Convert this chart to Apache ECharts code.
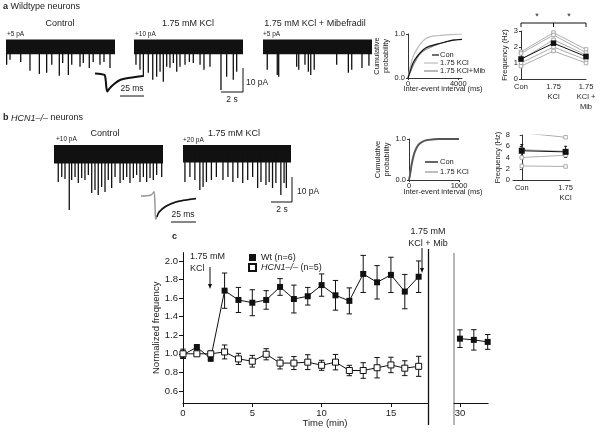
<!DOCTYPE html>
<html><head><meta charset="utf-8">
<script src="https://cdn.jsdelivr.net/npm/echarts@6/dist/echarts.min.js"></script>
<style>html,body{margin:0;padding:0;background:#fff}#c{width:600px;height:433px}</style>
</head><body><div id="c"></div><script>
// ---------- DATA ----------
// Panel a traces: spike times (s) and amplitudes (pA)
const a1T = [0.06,0.37,1.35,2.2,3.06,3.73,4.2,4.89,5.2,5.72,6.03,6.79,7.09,7.64,8.0,8.62,8.99,9.54];
const a1A = [7.5,5.4,6.3,10,11.3,10.8,7.5,12.1,6.7,11.7,7.5,8.3,6.7,8.8,6.3,7.5,6.3,8.8];
const a2T = [0.18,0.55,0.86,1.31,1.72,2.08,2.39,2.69,3.0,3.3,3.61,3.92,4.22,4.68,5.08,5.44,6.06,6.42,6.97,7.98,8.5,9.11,9.42];
const a2A = [7.5,9.6,12.5,10.8,13.7,12.5,10.4,14.6,8.3,8.7,6.7,10.4,8.3,7.5,6.3,6.7,7.5,9.6,8.3,18.7,12.5,13.7,10.4];
const a3T = [0.39,1.31,1.44,3.09,3.28,3.85,4.16,4.38,4.7,6.76,7.83,8.14,9.08,9.72];
const a3A = [9.6,11.7,12.5,8.3,9.6,7.5,10.4,11.7,9.6,7.5,10.8,9.6,8.8,7.9];
// Panel b traces
const b1T = [0.39,0.71,1.01,1.4,1.62,1.93,2.23,2.54,2.84,3.15,3.46,3.76,4.06,4.37,4.68,4.98,5.29,5.6,6.06,6.36,6.67,6.97,7.28,7.58,7.89,8.2,8.5,8.81,9.11,9.42,9.88];
const b1A = [11.2,9.2,10,22.4,10.4,9.2,11.6,9.6,10.4,8.4,15.6,14.4,16.4,13.2,15.2,10.4,13.6,9.2,11.6,10.4,9.2,11.6,9.6,8.4,11.2,9.2,11.2,9.6,10.4,8.4,9.2];
const b2T = [0.18,0.64,1.1,1.56,1.86,2.17,2.63,3.09,3.7,4.16,4.62,5.07,5.53,5.99,6.45,6.91,7.22,7.68,7.98,8.29,8.6,9.06,9.36,9.57];
const b2A = [11.2,9.2,10.4,14.4,13.2,11.2,10.4,9.2,10.4,9.2,11.2,9.6,11.6,10.4,9.2,13.6,11.2,12.4,11.2,13.6,11.6,16.4,11.6,13.6];
// Average EPSC insets (ms, pA)
const epscA_t = [0,6,10,11,11.8,12.8,15,18.7,26,36.5,50];
const epscA_v = [-1.5,-1.8,-2.2,-4,-7.5,-9.5,-8.2,-6.6,-4.4,-3.4,-2.6];
const epscBg_t = [0,10,13,14,14.8,18,25,35,45,55];
const epscBg_v = [-3.2,-2.8,-1.5,-7,-12.5,-9.5,-7.2,-5.5,-4.8,-4.3];
const epscBk_t = [16,18,25,35,45,55];
const epscBk_v = [-11.5,-9.7,-7.3,-5.6,-4.8,-4.2];
// Cumulative probability, panel a
const cumA_t   = [0,200,400,700,1000,1400,1800,2300,3000,3600,4300];
const cumA_con = [0,0.18,0.34,0.48,0.58,0.68,0.73,0.77,0.82,0.86,0.88];
const cumA_kcl = [0,0.28,0.48,0.65,0.78,0.89,0.94,0.96,0.98,0.99,1.0];
const cumA_mib = [0,0.14,0.28,0.44,0.56,0.64,0.70,0.76,0.82,0.86,0.88];
// Cumulative probability, panel b
const cumB_t   = [0,25,50,100,150,200,300,400,600,1000];
const cumB_con = [0,0.15,0.35,0.62,0.78,0.87,0.95,0.98,1.0,1.0];
const cumB_kcl = [0,0.18,0.40,0.66,0.80,0.89,0.96,0.985,1.0,1.0];
// Frequency, panel a (per neuron) and mean
const freqCatsA = ['Con','1.75\nKCl','1.75\nKCl +\nMib'];
const freqA_con = [1.7,1.6,1.2,1.0,0.8];
const freqA_kcl = [2.9,2.75,2.45,2.0,1.75];
const freqA_mib = [1.85,1.65,1.5,1.2,1.0];
const freqA_mean = [1.25,2.24,1.4];
// Frequency, panel b
const freqB_con = [8.4,8.4,5.4,4.0,2.5];
const freqB_kcl = [8.4,7.6,5.1,4.4,2.4];
const freqB_mean = [5.2,5.0];
const freqB_sem = [1.1,1.0];
// Panel c time course
const timeC = [0,1,2,3,4,5,6,7,8,9,10,11,12,13,14,15,16,17];
const wtMean = [0.99,1.07,0.95,1.68,1.58,1.55,1.58,1.72,1.59,1.62,1.74,1.63,1.57,1.86,1.77,1.85,1.67,1.83];
const wtSem  = [0.04,0.03,0.03,0.19,0.135,0.14,0.10,0.09,0.15,0.095,0.12,0.16,0.14,0.20,0.18,0.19,0.185,0.17];
const hcnMean = [1.0,1.0,1.0,1.02,0.945,0.92,0.995,0.90,0.90,0.91,0.876,0.91,0.82,0.82,0.85,0.88,0.845,0.865];
const hcnSem  = [0.05,0.02,0.03,0.075,0.06,0.063,0.06,0.063,0.07,0.08,0.054,0.083,0.056,0.084,0.11,0.083,0.08,0.108];
const timeMib = [30,31,32];
const mibMean = [1.163,1.15,1.128];
const mibSem  = [0.095,0.11,0.08];
const yTicksC = [0.6,0.8,1.0,1.2,1.4,1.6,1.8,2.0];

// ---------- CHART ----------
const FF = 'Liberation Sans, Arial, Helvetica, sans-serif';
const TC = '#222';
const chart = echarts.init(document.getElementById('c'), null, {renderer:'canvas'});

const grids = [
  {left:6, top:30, width:109, height:60},    //0 a1
  {left:134, top:30, width:109, height:60},  //1 a2
  {left:263, top:30, width:109, height:60},  //2 a3
  {left:95, top:70, width:48, height:25},    //3 inset a
  {left:408, top:34, width:54, height:44},   //4 cum a
  {left:521, top:31, width:65, height:48},   //5 freq a
  {left:54, top:134, width:109, height:80},  //6 b1
  {left:183, top:134, width:108, height:80}, //7 b2
  {left:141, top:188, width:56, height:35},  //8 inset b
  {left:409, top:139, width:50, height:41},  //9 cum b
  {left:513, top:135, width:57, height:45},  //10 freq b
  {left:183, top:252.6, width:245.5, height:150.4}, //11 main c
  {left:454, top:252.6, width:34.1, height:150.4}   //12 right c
];
const hid = {show:false};
const smallLab = {fontSize:7.5, color:TC, fontFamily:FF, margin:3};
const axLine = {lineStyle:{color:'#333', width:1}};
const xAxes = [], yAxes = [];
function traceAxes(gi, ymin, ymax, xmax){
  xAxes.push({gridIndex:gi, type:'value', min:0, max:xmax, show:false});
  yAxes.push({gridIndex:gi, type:'value', min:ymin, max:ymax, show:false});
}
traceAxes(0,-18,7,10); traceAxes(1,-18,7,10); traceAxes(2,-18,7,10);
traceAxes(3,-11,0,50);
// 4 cum a
xAxes.push({gridIndex:4, type:'value', min:0, max:4300, interval:4000, axisLine:axLine, axisTick:{length:2, lineStyle:{color:'#333'}}, axisLabel:Object.assign({},smallLab,{margin:2, formatter:v=>String(v)}), splitLine:hid});
yAxes.push({gridIndex:4, type:'value', min:0, max:1, interval:1, axisLine:Object.assign({show:true},axLine), axisTick:{show:true,length:2}, axisLabel:Object.assign({},smallLab,{formatter:v=>v.toFixed(1)}), splitLine:hid,
  name:'Cumulative\nprobability', nameLocation:'middle', nameGap:17, nameTextStyle:{fontSize:7.5, color:TC, fontFamily:FF, lineHeight:9}});
// 5 freq a
xAxes.push({gridIndex:5, type:'category', data:freqCatsA, boundaryGap:false, axisLine:axLine, axisTick:hid, axisLabel:Object.assign({},smallLab,{lineHeight:10, margin:3})});
yAxes.push({gridIndex:5, type:'value', min:0, max:3, interval:1, axisLine:Object.assign({show:true},axLine), axisTick:{show:true,length:2}, axisLabel:smallLab, splitLine:hid,
  name:'Frequency (Hz)', nameLocation:'middle', nameGap:12, nameTextStyle:{fontSize:7.5, color:TC, fontFamily:FF}});
traceAxes(6,-24,8,10); traceAxes(7,-24,8,10);
traceAxes(8,-14,0,56);
// 9 cum b
xAxes.push({gridIndex:9, type:'value', min:0, max:1000, interval:1000, axisLine:axLine, axisTick:{length:2}, axisLabel:Object.assign({},smallLab,{margin:2, formatter:v=>String(v)}), splitLine:hid});
yAxes.push({gridIndex:9, type:'value', min:0, max:1, interval:1, axisLine:Object.assign({show:true},axLine), axisTick:{show:true,length:2}, axisLabel:Object.assign({},smallLab,{formatter:v=>v.toFixed(1)}), splitLine:hid,
  name:'Cumulative\nprobability', nameLocation:'middle', nameGap:17, nameTextStyle:{fontSize:7.5, color:TC, fontFamily:FF, lineHeight:9}});
// 10 freq b
xAxes.push({gridIndex:10, type:'value', min:-0.2, max:1.1, axisLine:axLine, axisTick:{show:false},
  axisLabel:Object.assign({},smallLab,{customValues:[0,1], lineHeight:10, formatter:v=>v===0?'Con':'1.75\nKCl'}), splitLine:hid});
yAxes.push({gridIndex:10, type:'value', min:0, max:8, interval:2, axisLine:Object.assign({show:true},axLine), axisTick:{show:true,length:2}, axisLabel:smallLab, splitLine:hid,
  name:'Frequency (Hz)', nameLocation:'middle', nameGap:10, nameTextStyle:{fontSize:7.5, color:TC, fontFamily:FF}});
// 11 main c
const cLab = {fontSize:9.5, color:TC, fontFamily:FF, margin:5};
xAxes.push({gridIndex:11, type:'value', min:0, max:17.71, axisLine:{lineStyle:{color:'#111'}}, axisTick:{length:4, customValues:[0,5,10,15], lineStyle:{color:'#111'}},
  axisLabel:Object.assign({},cLab,{customValues:[0,5,10,15]}), splitLine:hid});
yAxes.push({gridIndex:11, type:'value', min:0.47, max:2.09, axisLine:{show:true, lineStyle:{color:'#111'}}, axisTick:{show:true, length:4, customValues:yTicksC, lineStyle:{color:'#111'}},
  axisLabel:Object.assign({},cLab,{customValues:yTicksC, formatter:v=>v.toFixed(1)}), splitLine:hid,
  name:'Normalized frequency', nameLocation:'middle', nameGap:19, nameTextStyle:{fontSize:9.5, color:TC, fontFamily:FF}});
// 12 right c
xAxes.push({gridIndex:12, type:'value', min:29.57, max:32.03, axisLine:{lineStyle:{color:'#111'}}, axisTick:{length:4, customValues:[30], lineStyle:{color:'#111'}},
  axisLabel:Object.assign({},cLab,{customValues:[30]}), splitLine:hid});
yAxes.push({gridIndex:12, type:'value', min:0.47, max:2.09, show:false});

const series = [];
function spikes(gi, t, a, band){
  series.push({type:'bar', xAxisIndex:gi, yAxisIndex:gi, barWidth:1.3, itemStyle:{color:'#111'},
    data:t.map((v,i)=>[v,-a[i]]), silent:true,
    markArea:{silent:true, itemStyle:{color:'#111', opacity:1}, data:[[{coord:[0,band[0]]},{coord:[10,band[1]]}]]}});
}
spikes(0,a1T,a1A,[-3.1,3.0]);
spikes(1,a2T,a2A,[-3.1,3.0]);
spikes(2,a3T,a3A,[-3.1,3.0]);
spikes(6,b1T,b1A,[-3.8,3.6]);
spikes(7,b2T,b2A,[-3.4,3.6]);
function line(gi, xs, ys, color, w, extra){
  series.push(Object.assign({type:'line', xAxisIndex:gi, yAxisIndex:gi, showSymbol:false, symbol:'none', silent:true,
    lineStyle:{color:color, width:w}, itemStyle:{color:color}, data:xs.map((v,i)=>[v,ys[i]])}, extra||{}));
}
line(3, epscA_t, epscA_v, '#111', 2, {smooth:0.3});
line(8, epscBg_t, epscBg_v, '#999', 1.5, {smooth:0.3});
line(8, epscBk_t, epscBk_v, '#111', 1.5, {smooth:0.3});
line(4, cumA_t, cumA_kcl, '#bbb', 1.2, {smooth:0.4});
line(4, cumA_t, cumA_mib, '#888', 1.2, {smooth:0.4});
line(4, cumA_t, cumA_con, '#111', 1.2, {smooth:0.4});
line(9, cumB_t, cumB_kcl, '#aaa', 1.5, {smooth:0.4});
line(9, cumB_t, cumB_con, '#555', 1.8, {smooth:0.4});
// freq a neurons
for (let i=0;i<freqA_con.length;i++){
  series.push({type:'line', xAxisIndex:5, yAxisIndex:5, data:[freqA_con[i],freqA_kcl[i],freqA_mib[i]], symbol:'rect', symbolSize:3.5,
    lineStyle:{color:'#999', width:0.8}, itemStyle:{color:'#fff', borderColor:'#999', borderWidth:0.8}, silent:true});
}
series.push({type:'line', xAxisIndex:5, yAxisIndex:5, data:freqA_mean, symbol:'rect', symbolSize:5.5, lineStyle:{color:'#111', width:1}, itemStyle:{color:'#111'}, silent:true, z:5});
// freq b neurons
for (let i=0;i<freqB_con.length;i++){
  series.push({type:'line', xAxisIndex:10, yAxisIndex:10, data:[[0,freqB_con[i]],[1,freqB_kcl[i]]], symbol:'rect', symbolSize:3.5,
    lineStyle:{color:'#999', width:0.8}, itemStyle:{color:'#fff', borderColor:'#999', borderWidth:0.8}, silent:true});
}
function errRender(cap, color){
  return function(params, api){
    const x=api.value(0), m=api.value(1), e=api.value(2);
    const p1=api.coord([x,m+e]), p2=api.coord([x,m-e]);
    const st={stroke:color, lineWidth:1};
    return {type:'group', children:[
      {type:'line', shape:{x1:p1[0],y1:p1[1],x2:p2[0],y2:p2[1]}, style:st},
      {type:'line', shape:{x1:p1[0]-cap,y1:p1[1],x2:p1[0]+cap,y2:p1[1]}, style:st},
      {type:'line', shape:{x1:p2[0]-cap,y1:p2[1],x2:p2[0]+cap,y2:p2[1]}, style:st}
    ]};
  };
}
function errSeries(gi, xs, m, e, cap, color){
  series.push({type:'custom', xAxisIndex:gi, yAxisIndex:gi, renderItem:errRender(cap,color), silent:true, z:2,
    data:xs.map((v,i)=>[v,m[i],e[i]])});
}
errSeries(10,[0,1],freqB_mean,freqB_sem,1.5,'#111');
series.push({type:'line', xAxisIndex:10, yAxisIndex:10, data:[[0,freqB_mean[0]],[1,freqB_mean[1]]], symbol:'rect', symbolSize:6, lineStyle:{color:'#111', width:1}, itemStyle:{color:'#111'}, silent:true, z:5});
// main c
errSeries(11,timeC,wtMean,wtSem,2.7,'#111');
errSeries(11,timeC,hcnMean,hcnSem,2.7,'#111');
series.push({name:'Wt (n=6)', type:'line', xAxisIndex:11, yAxisIndex:11, data:timeC.map((t,i)=>[t,wtMean[i]]), symbol:'rect', symbolSize:6,
  lineStyle:{color:'#111', width:1}, itemStyle:{color:'#111'}, z:4});
series.push({name:'HCN1–/– (n=5)', type:'line', xAxisIndex:11, yAxisIndex:11, data:timeC.map((t,i)=>[t,hcnMean[i]]), symbol:'rect', symbolSize:6,
  lineStyle:{color:'#111', width:1}, itemStyle:{color:'#fff', borderColor:'#111', borderWidth:1}, z:4});
errSeries(12,timeMib,mibMean,mibSem,2.7,'#111');
series.push({type:'line', xAxisIndex:12, yAxisIndex:12, data:timeMib.map((t,i)=>[t,mibMean[i]]), symbol:'rect', symbolSize:6,
  lineStyle:{color:'#111', width:1}, itemStyle:{color:'#111'}, z:4});

// ---------- GRAPHIC (labels, scale bars, arrows) ----------
function T(x,y,text,o){ o=o||{};
  return {type:'text', x:x, y:y, silent:true, style:Object.assign({text:text, fill:TC, fontSize:9, fontFamily:FF, align:'left', verticalAlign:'middle'}, o)}; }
function L(x1,y1,x2,y2,c,w){ return {type:'line', silent:true, shape:{x1,y1,x2,y2}, style:{stroke:c||'#111', lineWidth:w||1}}; }
function arrow(x,y1,y2){ return [L(x,y1,x,y2-3,'#111',1),
  {type:'polygon', silent:true, shape:{points:[[x-2,y2-5],[x+2,y2-5],[x,y2]]}, style:{fill:'#111'}}]; }
const rich = {b:{fontWeight:'bold', fontSize:9, fontFamily:FF, fill:TC}, i:{fontStyle:'italic', fontSize:9, fontFamily:FF, fill:TC}};
const g = [
  T(3,7,'{b|a} Wildtype neurons',{rich:rich}),
  T(60,24,'Control',{align:'center'}),
  T(188,24,'1.75 mM KCl',{align:'center'}),
  T(315,24,'1.75 mM KCl + Mibefradil',{align:'center'}),
  T(7,34,'+5 pA',{fontSize:6.5}),
  T(135,34,'+10 pA',{fontSize:6.5}),
  T(263,34,'+5 pA',{fontSize:6.5}),
  // scale bars a
  L(243,68,243,92), L(221,92,243,92),
  T(246,83,'10 pA',{fontSize:8.5}), T(232,100,'2 s',{fontSize:8.5, align:'center'}),
  L(120,96,144,96), T(132,89,'25 ms',{fontSize:8.5, align:'center'}),
  // cum a legend
  L(432,55,439,55,'#111',1.2), T(440,55,'Con',{fontSize:7.5}),
  L(424,63,438,63,'#bbb',1.2), T(440,63,'1.75 KCl',{fontSize:7.5}),
  L(424,71,438,71,'#888',1.2), T(440,71,'1.75 KCl+Mib',{fontSize:7.5}),
  T(443,89,'Inter-event interval (ms)',{fontSize:7.5, align:'center'}),
  // bracket freq a
  L(521,23,586,23), L(521,23,521,27), L(553.5,23,553.5,27), L(586,23,586,27),
  T(537,17,'*',{fontSize:9, align:'center'}), T(569,17,'*',{fontSize:9, align:'center'}),
  // panel b
  T(3,118,'{b|b} {i|HCN1–/–} neurons',{rich:rich}),
  T(105,134,'Control',{align:'center'}),
  T(234,134,'1.75 mM KCl',{align:'center'}),
  T(56,139,'+10 pA',{fontSize:6.5}),
  T(183,140,'+20 pA',{fontSize:6.5}),
  L(292,177,292,202), L(271,202,292,202),
  T(297,192,'10 pA',{fontSize:8.5}), T(282,210,'2 s',{fontSize:8.5, align:'center'}),
  L(171,222,196,222), T(183,215,'25 ms',{fontSize:8.5, align:'center'}),
  L(425,162,438,162,'#555',1.8), T(440,162,'Con',{fontSize:7.5}),
  L(425,172,438,172,'#aaa',1.5), T(440,172,'1.75 KCl',{fontSize:7.5}),
  T(443,192,'Inter-event interval (ms)',{fontSize:7.5, align:'center'}),
  // panel c
  T(172,237,'c',{fontWeight:'bold'}),
  T(190,257,'1.75 mM',{fontSize:9}), T(190,269,'KCl',{fontSize:9}),
  ...arrow(210,267,289),
  T(428,232,'1.75 mM',{fontSize:9, align:'center'}), T(428,244,'KCl + Mib',{fontSize:9, align:'center'}),
  ...arrow(422,248,273),
  L(428.5,249,428.5,425,'#111',1.3),
  L(454,253,454,425,'#888',1.2),
  T(325,423,'Time (min)',{fontSize:9.5, align:'center'})
];

chart.setOption({
  animation:false,
  backgroundColor:'#fff',
  textStyle:{fontFamily:FF},
  grid:grids.map(gr=>Object.assign({containLabel:false}, gr)),
  xAxis:xAxes, yAxis:yAxes,
  legend:[{left:243, top:248, orient:'vertical', itemWidth:7, itemHeight:7, itemGap:1, icon:'rect', selectedMode:false,
    data:['Wt (n=6)','HCN1–/– (n=5)'],
    formatter:n=>n.indexOf('HCN')===0?'{i|HCN1–/–} (n=5)':n,
    textStyle:{fontSize:9, color:TC, fontFamily:FF, rich:{i:{fontStyle:'italic', fontSize:9, color:TC, fontFamily:FF}}}}],
  series:series,
  graphic:g
});
</script></body></html>
